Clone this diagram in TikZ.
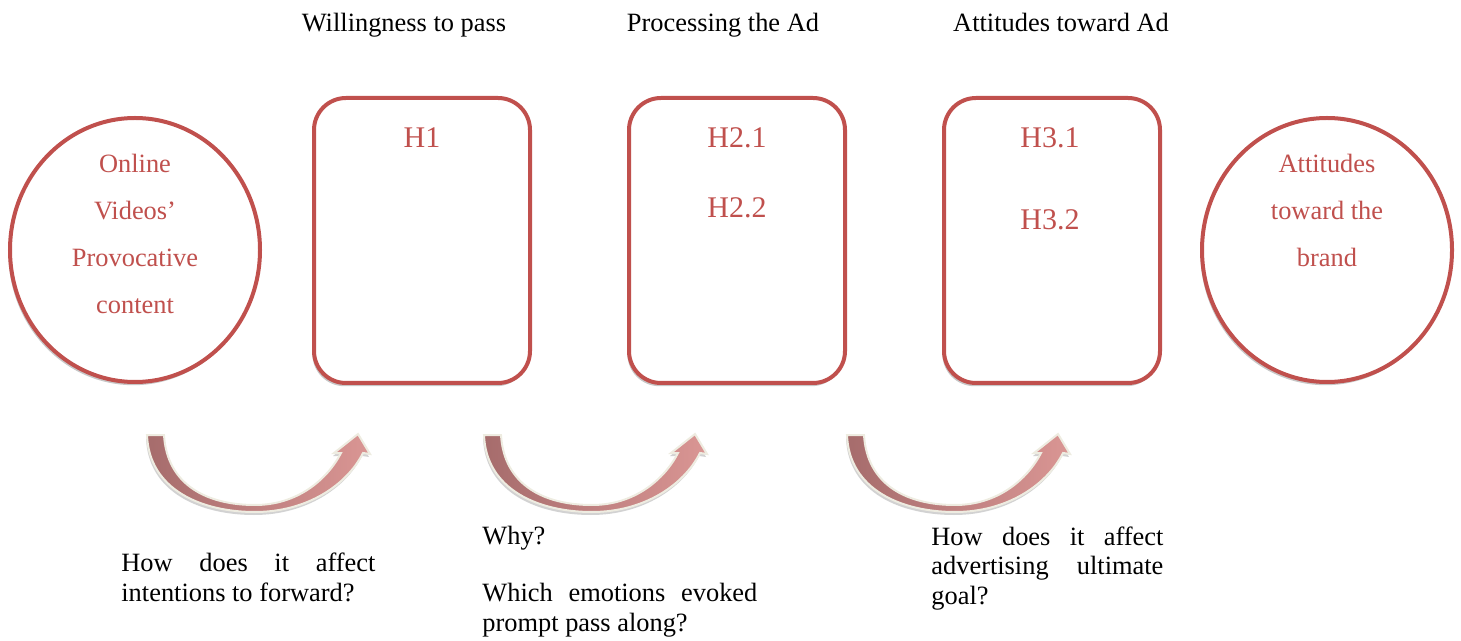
\documentclass[tikz,border=0pt]{standalone}
\usepackage{fontspec}
\setmainfont{Liberation Serif}
\usetikzlibrary{shapes.geometric,shadows}

\definecolor{boxred}{HTML}{C0504D}
\definecolor{arrowdark}{RGB}{166,108,108}
\definecolor{arrowlight}{RGB}{218,150,148}
\definecolor{arrowrim}{HTML}{EEECE1}

\tikzset{
  softshadow/.style={drop shadow={shadow xshift=-0.8pt, shadow yshift=-1.6pt, fill=black!40, opacity=.55}},
  ovalnode/.style={ellipse, draw=boxred, line width=2pt, fill=white,
    minimum width=125pt, minimum height=132pt, softshadow},
  hypbox/.style={rectangle, rounded corners=16pt, draw=boxred, line width=2pt, fill=white,
    minimum width=108pt, minimum height=142.5pt, softshadow},
  redtext/.style={text=boxred, font=\fontsize{13.2}{23.5}\selectfont, align=center, inner sep=0pt, anchor=base},
  hyptext/.style={text=boxred, font=\fontsize{15}{18}\selectfont, inner sep=0pt, anchor=base},
  headtext/.style={font=\fontsize{13.2}{16}\selectfont, inner sep=0pt, anchor=base},
  question/.style={font=\fontsize{13.2}{14.6}\selectfont, align=left, inner sep=0pt, anchor=base west},
  arrowband/.style={left color=arrowdark, right color=arrowlight, draw=arrowrim, line width=1pt,
    drop shadow={shadow xshift=-0.5pt, shadow yshift=-1.5pt, fill=black!35, opacity=.5}},
  % curved band with its head, tail at the origin
  bendarrow/.pic={
    \path[arrowband] (0,0) .. controls (2,55) and (55,77) .. (108,77)
      .. controls (160,77) and (200,50) .. (216,18)
      -- (223,19) -- (211,-1) -- (187,18) -- (194,18)
      .. controls (180,45) and (150,70) .. (108,70)
      .. controls (60,70) and (20,50) .. (17,0) -- cycle;
  }
}

\begin{document}
\begin{tikzpicture}[x=0.5pt, y=-0.5pt]
  \useasboundingbox (0,0) rectangle (1461,641);

  % Column headings
  \node[headtext] (willing) at (404,32) {Willingness to pass};
  \node[headtext] (process) at (723,32) {Processing the Ad};
  \node[headtext] (attad)   at (1061,32) {Attitudes toward Ad};

  % Start and end ovals (text placed by its last baseline)
  \node[ovalnode] (video) at (135,250) {};
  \node[redtext] (videotext) at (135,314) {Online\\Videos'\\Provocative\\content};
  \node[ovalnode] (brand) at (1327,250) {};
  \node[redtext] (brandtext) at (1327,267) {Attitudes\\toward the\\brand};

  % Hypothesis boxes
  \node[hypbox] (boxA) at (422,240.5) {};
  \node[hypbox] (boxB) at (737,240.5) {};
  \node[hypbox] (boxC) at (1052,240.5) {};
  \node[hyptext] (hA)  at (422,148)  {H1};
  \node[hyptext] (hB1) at (737,148)  {H2.1};
  \node[hyptext] (hB2) at (737,218)  {H2.2};
  \node[hyptext] (hC1) at (1050,148) {H3.1};
  \node[hyptext] (hC2) at (1050,230) {H3.2};

  % Curved arrows below the boxes
  \pic (turnA) at (147,435) {bendarrow};
  \pic (turnB) at (484,435) {bendarrow};
  \pic (turnC) at (847,435) {bendarrow};

  % Questions (placed by last baseline)
  \node[question] (askA) at (121,601)
    {\makebox[127pt][s]{How does it affect}\\intentions to forward?};
  \node[question] (askB) at (482,631)
    {Why?\\[14pt]\makebox[137.5pt][s]{Which emotions evoked}\\prompt pass along?};
  \node[question] (askC) at (931,604)
    {\makebox[116pt][s]{How does it affect}\\\makebox[116pt][s]{advertising ultimate}\\goal?};
\end{tikzpicture}
\end{document}
